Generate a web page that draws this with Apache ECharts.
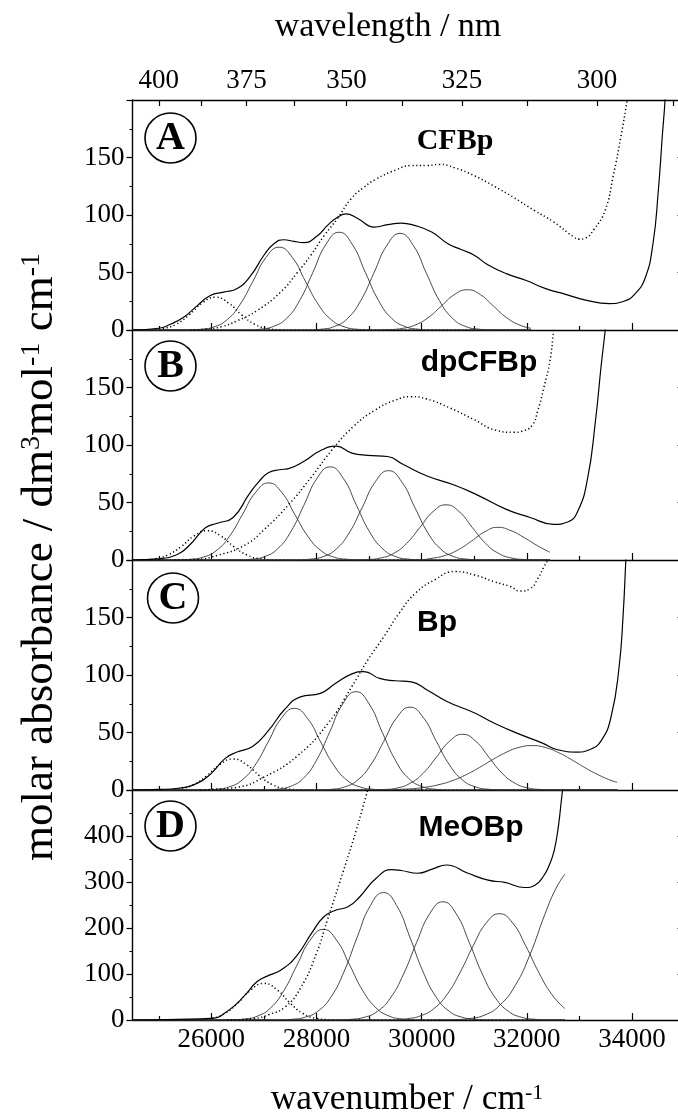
<!DOCTYPE html>
<html>
<head>
<meta charset="utf-8">
<script src="https://cdn.jsdelivr.net/npm/echarts@6/dist/echarts.min.js"></script>
<style>html,body{margin:0;padding:0;background:#fff}#c{width:678px;height:1117px}</style>
</head>
<body>
<div id="c"></div>
<script>
// ---------- axis ticks ----------
const XMIN = 24500, XMAX = 35000;
const wnMajor = [26000, 28000, 30000, 32000, 34000];
const wnMinor = [25000, 27000, 29000, 31000, 33000, 35000];
const nmMajor = [400, 375, 350, 325, 300];
const nmMinor = [387.5, 362.5, 337.5, 312.5, 287.5];
const yMaxes = [200, 200, 200, 500];
const ySteps = [50, 50, 50, 100];
const panelLetters = ['A', 'B', 'C', 'D'];
const compounds = ['CFBp', 'dpCFBp', 'Bp', 'MeOBp'];

// ---------- Panel A (CFBp) ----------
const envA = [[24500,0],[25000,1.5],[25218,5],[25472,11],[25727,21],[25981,30],[26236,33],[26491,36],[26745,47],[27000,65],[27190,75],[27381,78.5],[27570,77],[27763,76],[28018,82],[28209,91],[28400,98],[28559,101],[28782,97],[29100,89.5],[29355,91.6],[29609,93],[29863,91],[30200,85],[30500,75],[30750,70],[31000,65],[31250,57],[31610,49],[31990,43],[32360,36],[32740,31],[33120,26],[33570,23],[33850,25],[34050,31],[34250,45],[34400,75],[34500,120],[34580,170],[34630,200],[34660,230]];
const dotA = [[25600,0],[25900,0.8],[26200,3],[26491,8],[26873,17],[27318,33],[27637,50],[27891,65],[28145,82],[28400,97],[28655,114],[28900,124],[29125,131],[29500,139],[29800,143],[30100,143],[30330,144],[30630,141],[31010,134],[31380,125],[31760,115],[32140,104],[32510,94],[32890,81],[33000,79],[33120,80],[33270,87],[33490,104],[33640,133],[33790,168],[33910,200],[33960,215]];
const gA1 = [[24500,0],[24800,0],[25077,1.3],[25327,4.9],[25577,13.1],[25827,23.5],[26077,28.5],[26327,23.5],[26577,13.1],[26827,4.9],[27077,1.3],[27327,0.2],[27600,0],[32080,0]];
const gA2 = [[24500,0],[25540,0],[25790,0.6],[26040,2.6],[26290,8.6],[26540,21.8],[26790,42.3],[27040,63.1],[27290,72],[27540,63.1],[27790,42.3],[28040,21.8],[28290,8.6],[28540,2.6],[28790,0.6],[29040,0],[32080,0]];
const gA3 = [[24500,0],[26680,0],[26930,0.7],[27180,3.1],[27430,10.1],[27680,25.7],[27930,50.0],[28180,74.5],[28430,85],[28680,74.5],[28930,50.0],[29180,25.7],[29430,10.1],[29680,3.1],[29930,0.7],[30180,0],[32080,0]];
const gA4 = [[24500,0],[27840,0],[28090,0.7],[28340,3.0],[28590,10.0],[28840,25.4],[29090,49.4],[29340,73.6],[29590,84],[29840,73.6],[30090,49.4],[30340,25.4],[30590,10.0],[30840,3.0],[31090,0.7],[31340,0],[32080,0]];
const gA5 = [[24500,0],[29120,0],[29370,0.3],[29620,1.3],[29870,4.2],[30120,10.6],[30370,20.6],[30620,30.7],[30870,35],[31120,30.7],[31370,20.6],[31620,10.6],[31870,4.2],[32080,1.5]];

// ---------- Panel B (dpCFBp) ----------
const envB = [[24500,0],[24984,1],[25360,5],[25586,13],[25887,28],[26113,32],[26414,37],[26715,57],[26900,68],[27092,76],[27300,78.5],[27468,79.5],[27770,86],[28071,95],[28372,99],[28673,93],[28975,91],[29351,90],[29652,83],[30104,73],[30631,65],[31083,56],[31610,44],[32062,37],[32513,31],[32777,33],[32965,42],[33153,70],[33304,120],[33417,170],[33492,200],[33530,220]];
const dotB = [[25300,0],[25700,0.5],[26113,4],[26640,13],[27017,27],[27468,48],[27900,72],[28300,96],[28700,116],[29100,130],[29500,139],[29800,142],[30100,140],[30550,132],[31000,122],[31400,113],[31760,111],[31910,112],[32100,117],[32210,130],[32325,150],[32440,173],[32510,200],[32540,215]];
const gB1 = [[24500,0],[24675,0],[24925,1.1],[25175,4.4],[25425,11.7],[25675,21.0],[25925,25.5],[26175,21.0],[26425,11.7],[26675,4.4],[26925,1.1],[27175,0.2],[27400,0],[32440,0]];
const gB2 = [[24500,0],[25340,0],[25590,0.6],[25840,2.4],[26090,8.0],[26340,20.3],[26590,39.4],[26840,58.7],[27090,67],[27340,58.7],[27590,39.4],[27840,20.3],[28090,8.0],[28340,2.4],[28590,0.6],[28840,0],[32440,0]];
const gB3 = [[24500,0],[26510,0],[26760,0.7],[27010,2.9],[27260,9.7],[27510,24.5],[27760,47.6],[28010,71.0],[28260,81],[28510,71.0],[28760,47.6],[29010,24.5],[29260,9.7],[29510,2.9],[29760,0.7],[30010,0],[32440,0]];
const gB4 = [[24500,0],[27620,0],[27870,0.7],[28120,2.8],[28370,9.3],[28620,23.5],[28870,45.7],[29120,68.1],[29370,77.7],[29620,68.1],[29870,45.7],[30120,23.5],[30370,9.3],[30620,2.8],[30870,0.7],[31120,0],[32440,0]];
const gB5 = [[24500,0],[28715,0],[28965,0.4],[29215,1.7],[29465,5.7],[29715,14.5],[29965,28.2],[30215,42.0],[30465,48],[30715,42.0],[30965,28.2],[31215,14.5],[31465,5.7],[31715,1.7],[31965,0.4],[32215,0],[32440,0]];
const gB6 = [[24500,0],[29900,0],[30200,1.5],[30450,4.0],[30700,9.0],[30950,16.5],[31200,24.5],[31445,28.4],[31700,25.5],[31950,19.5],[32200,12.5],[32440,6.7]];

// ---------- Panel C (Bp) ----------
const envC = [[24500,0],[25000,0.5],[25360,1.5],[25736,6],[26000,14.5],[26264,27.5],[26489,33],[26790,38],[27092,52],[27393,70],[27694,81],[28071,84],[28372,93],[28673,101],[28899,103],[29200,97],[29501,95],[29803,94],[30104,87],[30481,77],[31008,67],[31384,58],[31836,49],[32288,41],[32589,35],[32965,33],[33191,35],[33417,43],[33605,64],[33756,107],[33831,151],[33884,200],[33910,225]];
const dotC = [[25800,0],[26000,0.5],[26489,2.3],[27017,11.6],[27619,29],[28221,58],[28673,90],[28975,113],[29276,133],[29577,154],[29878,171],[30255,183],[30631,190],[31008,187],[31384,181],[31685,177],[31873,173],[32062,175],[32212,184],[32325,194],[32400,200],[32440,206]];
const gC1 = [[24500,0],[25164,0],[25414,1.2],[25664,4.6],[25914,12.4],[26164,22.2],[26414,27],[26664,22.2],[26914,12.4],[27164,4.6],[27414,1.2],[27664,0.2],[27900,0],[33720,0]];
const gC2 = [[24500,0],[25830,0],[26080,0.6],[26330,2.6],[26580,8.5],[26830,21.5],[27080,41.7],[27330,62.2],[27580,71],[27830,62.2],[28080,41.7],[28330,21.5],[28580,8.5],[28830,2.6],[29080,0.6],[29330,0],[33720,0]];
const gC3 = [[24500,0],[27000,0],[27250,0.7],[27500,3.1],[27750,10.2],[28000,25.9],[28250,50.3],[28500,74.9],[28750,85.5],[29000,74.9],[29250,50.3],[29500,25.9],[29750,10.2],[30000,3.1],[30250,0.7],[30500,0],[33720,0]];
const gC4 = [[24500,0],[28030,0],[28280,0.6],[28530,2.6],[28780,8.6],[29030,21.8],[29280,42.3],[29530,63.1],[29780,72],[30030,63.1],[30280,42.3],[30530,21.8],[30780,8.6],[31030,2.6],[31280,0.6],[31530,0],[33720,0]];
const gC5 = [[24500,0],[29030,0],[29280,0.4],[29530,1.7],[29780,5.8],[30030,14.6],[30280,28.5],[30530,42.4],[30780,48.4],[31030,42.4],[31280,28.5],[31530,14.6],[31780,5.8],[32030,1.7],[32280,0.4],[32530,0],[33720,0]];
const gC6 = [[24500,0],[29350,0],[29600,0.6],[29850,1.2],[30100,2.6],[30350,4.9],[30600,8.4],[30850,13.4],[31100,19.6],[31350,26.4],[31600,32.6],[31850,37.0],[32100,38.6],[32350,37.0],[32600,32.6],[32850,26.4],[33100,19.6],[33350,13.4],[33600,8.4],[33720,6.7]];

// ---------- Panel D (MeOBp) ----------
const envD = [[24500,0],[25360,1.4],[26000,3.6],[26339,22],[26640,54],[26866,83],[27092,97],[27318,108],[27619,139],[27920,191],[28146,225],[28372,239],[28598,246],[28824,268],[29125,307],[29427,327],[29610,325],[29926,319],[30200,328],[30468,337],[30882,319],[31264,304],[31582,299],[31964,288],[32155,293],[32314,312],[32440,340],[32524,370],[32600,420],[32660,480],[32690,510]];
const dotD = [[26300,0],[26800,3],[27100,12],[27400,28],[27700,70],[28000,145],[28200,215],[28500,320],[28750,410],[28900,470],[29000,510]];
const gD1 = [[24500,0],[25500,0],[25750,0.6],[26000,3.5],[26250,13.7],[26500,36.5],[26750,65.5],[27000,79.6],[27250,65.5],[27500,36.5],[27750,13.7],[28000,3.5],[28250,0.6],[28500,0],[32724,0]];
const gD2 = [[24500,0],[26130,0],[26380,0.4],[26630,2.2],[26880,8.6],[27130,26.6],[27380,64.0],[27630,119.6],[27880,173.8],[28130,197],[28380,173.8],[28630,119.6],[28880,64.0],[29130,26.6],[29380,8.6],[29630,2.2],[29880,0.4],[30130,0],[32724,0]];
const gD3 = [[24500,0],[27275,0],[27525,1.4],[27775,5.8],[28025,19.0],[28275,49.9],[28525,105.5],[28775,180.3],[29025,248.7],[29275,277],[29525,248.7],[29775,180.3],[30025,105.5],[30275,49.9],[30525,19.0],[30775,5.8],[31025,1.4],[31275,0],[32724,0]];
const gD4 = [[24500,0],[28405,0],[28655,1.5],[28905,5.8],[29155,18.5],[29405,47.7],[29655,99.7],[29905,168.7],[30155,231.3],[30405,257],[30655,231.3],[30905,168.7],[31155,99.7],[31405,47.7],[31655,18.5],[31905,5.8],[32155,1.5],[32405,0],[32724,0]];
const gD5 = [[24500,0],[29480,0],[29730,2.8],[29980,9.1],[30230,24.5],[30480,55.0],[30730,103.0],[30980,161.2],[31230,211.1],[31480,231],[31730,211.1],[31980,161.2],[32230,103.0],[32480,55.0],[32724,25]];
const gD6 = [[24500,0],[30000,0],[30300,0.3],[30600,0.8],[30880,2.8],[31200,10.8],[31486,32],[31780,75],[32060,142],[32345,230],[32550,285],[32724,317]];

// ---------- build ----------
const envs = [envA, envB, envC, envD];
const dots = [dotA, dotB, dotC, dotD];
const comps = [[gA1,gA2,gA3,gA4,gA5],[gB1,gB2,gB3,gB4,gB5,gB6],[gC1,gC2,gC3,gC4,gC5,gC6],[gD1,gD2,gD3,gD4,gD5,gD6]];

const GL = 132.5, GW = 552, GH = 230, GTOP = [100, 330, 560, 790];
const FONT = 'Liberation Serif';
const BLACK = '#000';
const axisLine = {show: true, lineStyle: {color: BLACK, width: 1.4}};
const labelStyle = {color: BLACK, fontFamily: FONT, fontSize: 27};

const grids = [], xAxes = [], yAxes = [], series = [];
for (let i = 0; i < 4; i++) {
  grids.push({left: GL, top: GTOP[i], width: GW, height: GH, containLabel: false, outerBoundsMode: 'none', show: false});
  xAxes.push({gridIndex: i, type: 'value', min: XMIN, max: XMAX, position: 'bottom',
    axisLine: axisLine,
    axisTick: {show: true, inside: true, length: 7, customValues: wnMajor, lineStyle: {color: BLACK, width: 1.2}},
    axisLabel: {show: i === 3, customValues: wnMajor, margin: 6, formatter: v => String(v), ...labelStyle},
    splitLine: {show: false}});
  xAxes.push({gridIndex: i, type: 'value', min: XMIN, max: XMAX, position: 'bottom',
    axisLine: {show: false},
    axisTick: {show: true, inside: true, length: 4, customValues: wnMinor, lineStyle: {color: BLACK, width: 1.2}},
    axisLabel: {show: false}, splitLine: {show: false}});
  yAxes.push({gridIndex: i, type: 'value', min: 0, max: yMaxes[i], interval: ySteps[i], position: 'left',
    axisLine: axisLine,
    axisTick: {show: true, inside: false, length: 6, lineStyle: {color: BLACK, width: 1.2}},
    minorTick: {show: true, splitNumber: 2, length: 3, lineStyle: {color: BLACK, width: 1}},
    axisLabel: {show: true, showMaxLabel: false, margin: 8, formatter: v => String(v), ...labelStyle},
    splitLine: {show: false}, minorSplitLine: {show: false}});
  yAxes.push({gridIndex: i, type: 'value', min: 0, max: yMaxes[i], interval: ySteps[i], position: 'right',
    axisLine: axisLine,
    axisTick: {show: true, inside: true, length: 7, lineStyle: {color: BLACK, width: 1.2}},
    axisLabel: {show: false}, splitLine: {show: false}});
}
const nmAll = nmMajor.concat(nmMinor);
xAxes.push({gridIndex: 0, type: 'value', min: XMIN, max: XMAX, position: 'top',
  axisLine: axisLine,
  axisTick: {show: true, inside: true, length: 6, customValues: nmAll.map(n => 1e7 / n), lineStyle: {color: BLACK, width: 1.2}},
  axisLabel: {show: true, customValues: nmMajor.map(n => 1e7 / n), margin: 6, formatter: v => String(Math.round(1e7 / v)), ...labelStyle},
  splitLine: {show: false}});

function line(data, i, style, z) {
  return {type: 'line', xAxisIndex: 2 * i, yAxisIndex: 2 * i, data: data, symbol: 'none', showSymbol: false,
    smooth: 0.5, lineStyle: style, silent: true, animation: false, z: z, clip: true};
}
const dotStyle = {color: BLACK, width: 1.5, type: [1.2, 2.6]};
for (let i = 0; i < 4; i++) {
  comps[i].forEach((c, k) => {
    series.push(line(c, i, k === 0 ? dotStyle : {color: '#333', width: 0.9}, 2));
  });
  series.push(line(dots[i], i, dotStyle, 3));
  series.push(line(envs[i], i, {color: BLACK, width: 1.2}, 4));
}

// ---------- annotations ----------
const circleCenters = [[170.5, 138], [170.5, 366], [173, 598], [170.5, 826]];
const nameSpec = [
  {x: 455, y: 141, font: 'Liberation Serif', size: 30},
  {x: 479, y: 363, font: 'Liberation Sans', size: 30},
  {x: 437, y: 623, font: 'Liberation Sans', size: 30},
  {x: 471, y: 828, font: 'Liberation Sans', size: 30}
];
const graphics = [];
for (let i = 0; i < 4; i++) {
  const [cx, cy] = circleCenters[i];
  graphics.push({type: 'ellipse', shape: {cx: cx, cy: cy, rx: 25.5, ry: 25}, style: {fill: 'none', stroke: BLACK, lineWidth: 1.6}});
  graphics.push({type: 'text', x: cx, y: cy + 1, style: {text: panelLetters[i], fill: BLACK, fontFamily: FONT, fontWeight: 'bold', fontSize: 40, align: 'center', verticalAlign: 'middle'}});
  const n = nameSpec[i];
  graphics.push({type: 'text', x: n.x, y: n.y, style: {text: compounds[i], fill: BLACK, fontFamily: n.font, fontWeight: 'bold', fontSize: n.size, align: 'center', verticalAlign: 'middle'}});
}
graphics.push({type: 'text', x: 388, y: 27, style: {text: 'wavelength / nm', fill: BLACK, fontFamily: FONT, fontSize: 34, align: 'center', verticalAlign: 'middle'}});
graphics.push({type: 'text', x: 407, y: 1100, style: {text: '{n|wavenumber / cm}{s|-1}', fill: BLACK, align: 'center', verticalAlign: 'middle',
  rich: {n: {fontFamily: FONT, fontSize: 35.5, fill: BLACK}, s: {fontFamily: FONT, fontSize: 22, fill: BLACK, verticalAlign: 'top'}}}});
graphics.push({type: 'text', x: 40, y: 557, rotation: Math.PI / 2, style: {text: '{n|molar absorbance / dm}{s|3}{n|mol}{s|-1}{n| cm}{s|-1}', fill: BLACK, align: 'center', verticalAlign: 'middle',
  rich: {n: {fontFamily: FONT, fontSize: 45, fill: BLACK}, s: {fontFamily: FONT, fontSize: 28, fill: BLACK, verticalAlign: 'top'}}}});

const chart = echarts.init(document.getElementById('c'), null, {renderer: 'canvas', width: 678, height: 1117});
chart.setOption({
  backgroundColor: '#fff',
  animation: false,
  textStyle: {fontFamily: FONT, color: BLACK},
  grid: grids,
  xAxis: xAxes,
  yAxis: yAxes,
  series: series,
  graphic: {elements: graphics}
});
</script>
</body>
</html>
